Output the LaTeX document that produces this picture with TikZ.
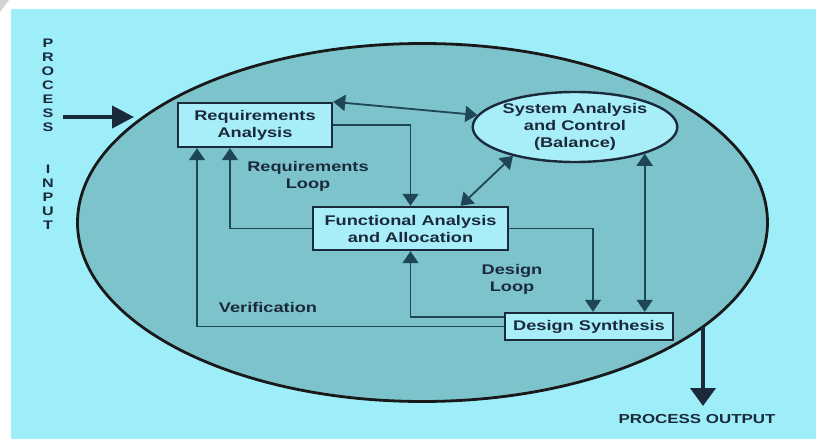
\documentclass[tikz,border=0pt]{standalone}
\usepackage{fontspec}
\setmainfont{Liberation Sans}[FakeStretch=1.3]
\usetikzlibrary{arrows.meta,shapes.geometric}
\definecolor{sky}{HTML}{9EEEFA}
\definecolor{pool}{HTML}{7CC3CC}
\definecolor{pale}{HTML}{A8EEF8}
\definecolor{ink}{HTML}{1B2A3A}
\definecolor{wire}{HTML}{1E4656}

\begin{document}
\begin{tikzpicture}
[x=0.5pt,y=-0.5pt,
 txt/.style={text=ink,align=center,font=\bfseries\fontsize{7}{8.5}\selectfont},
 box/.style={txt,draw=ink,fill=pale,line width=1.2pt,inner sep=0pt},
 oval/.style={txt,ellipse,draw=ink,fill=pale,line width=1.2pt,inner sep=0pt,minimum width=88pt,minimum height=35pt},
 link/.style={draw=wire,line width=0.9pt,-{Triangle[width=8pt,length=6pt]}},
 both/.style={link,{Triangle[width=8pt,length=6pt]}-{Triangle[width=8pt,length=6pt]}},
 heavy/.style={draw=ink,line width=2pt}]
\useasboundingbox (0,0) rectangle (816,439);
\fill[white] (0,0) rectangle (816,439);
\fill[gray!35] (0,0) -- (9,0) -- (0,12) -- cycle;
\fill[sky] (11,9) rectangle (816,439);
\draw[line width=1.4pt,draw=black!90,fill=pool] (422.5,222.5) ellipse [x radius=172.5pt,y radius=89.5pt];

\node[box,minimum width=77pt,minimum height=22pt] (ra) at (255,125) {Requirements\\Analysis};
\node[box,minimum width=97.5pt,minimum height=21.5pt] (fa) at (410.5,228.5) {Functional Analysis\\and Allocation};
\node[box,minimum width=84pt,minimum height=13.5pt] (ds) at (589,326.5) {Design Synthesis};
\node[oval] (sa) at (575,127) {System Analysis\\and Control\\(Balance)};

\node[txt] (rl) at (308,176) {Requirements\\Loop};
\node[txt] (dl) at (512,279) {Design\\Loop};
\node[txt] (vf) at (268,307) {Verification};
\node[txt,font=\bfseries\fontsize{6.2}{7}\selectfont] (pi) at (48,134) {P\\R\\O\\C\\E\\S\\S\\[14pt]I\\N\\P\\U\\T};
\node[txt,font=\bfseries\fontsize{6.5}{8}\selectfont] (po) at (697,419) {PROCESS OUTPUT};

\coordinate (in0) at (63,117);
\coordinate (in1) at (134,117);
\coordinate (out0) at (703,327);
\coordinate (out1) at (703,406);

\draw[both] (ra.north east) -- (sa.173);
\draw[link] (ra.east) -| (fa.north);
\draw[both] ([xshift=25pt]fa.north) -- (sa.205);
\draw[link] (fa.west) -| ([xshift=-12.5pt]ra.south);
\draw[link] ([yshift=4.75pt]ds.west) -| (fa.south);
\draw[link] (ds.west) -| ([xshift=-29pt]ra.south);
\draw[link] (fa.east) -| ([xshift=2pt]ds.north);
\draw[both] (sa.339) -- (sa.339 |- ds.north);

\draw[heavy,-{Triangle[width=11pt,length=11pt]}] (in0) -- (in1);
\draw[heavy,-{Triangle[width=12.5pt,length=9pt]}] (out0) -- (out1);
\end{tikzpicture}
\end{document}
